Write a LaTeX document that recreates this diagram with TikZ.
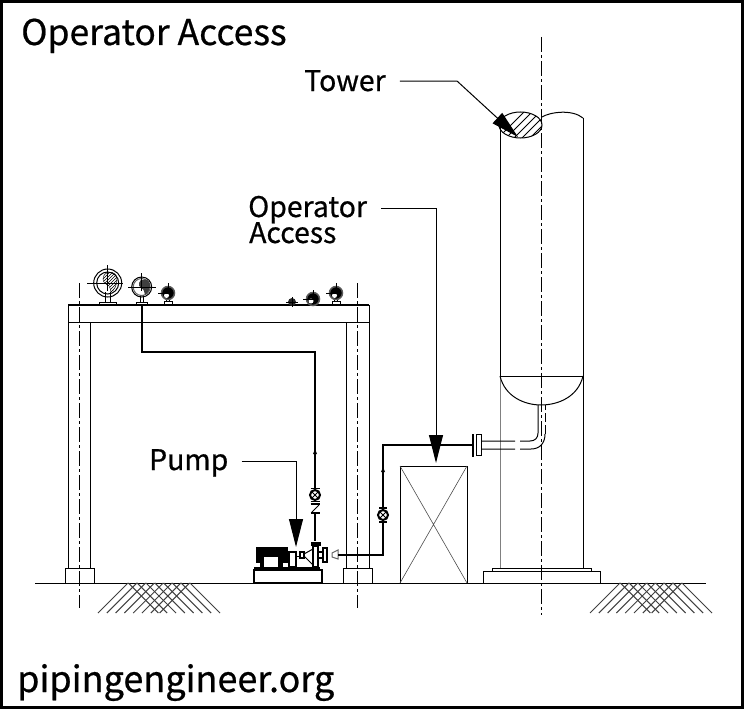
\documentclass[tikz,border=0pt]{standalone}
\usepackage{fontspec}
\setmainfont{Noto Sans CJK TC}[FakeBold=0.6]
\usetikzlibrary{positioning,calc,arrows.meta,patterns}

\tikzset{
  thinline/.style={line width=1pt},
  pipe/.style={line width=2pt},
  center line/.style={line width=1pt, dash pattern=on 15pt off 3pt on 3pt off 3pt},
  leader/.style={line width=1pt, -{Triangle[length=28pt,width=14pt]}},
  label/.style={inner sep=0pt, anchor=base west, font=\fontsize{28.4}{29}\selectfont},
  valve/.style={circle, draw, line width=2pt, minimum size=10pt, inner sep=0pt, path picture={
    \draw[line width=1pt] (path picture bounding box.south west) -- (path picture bounding box.north east)
      (path picture bounding box.north west) -- (path picture bounding box.south east);}},
}

\begin{document}
\begin{tikzpicture}[x=1pt,y=-1pt]

\useasboundingbox (0,0) rectangle (744,709);
\draw[line width=3pt] (1.5,1.5) rectangle (742.5,707.5);

% Titles

\node[label, font=\fontsize{35.5}{36}\selectfont] (TitleLabel) at (21,45) {Operator Access};
\node[label, font=\fontsize{36}{37}\selectfont] (SiteLabel) at (17,692) {pipingengineer.org};

% Ground

\draw[thinline] (35,583) -- (706,583);
\foreach \off in {0,492} {
  \foreach \i in {0,...,7} {
    \draw[thinline, black!75] ({128+\off+8.8*\i},583) -- ++(-30,30);
    \draw[thinline, black!75] ({190+\off-8.8*\i},583) -- ++(30,30);
  }
}

% Rack

\draw[thinline] (68,305) rectangle (369,322);
\draw[line width=2pt] (68,305) -- (369,305);
\draw[thinline] (68,322) -- (68,568) (90,322) -- (90,568);
\draw[thinline] (346,322) -- (346,568) (369,322) -- (369,568);
\draw[thinline] (65,568) rectangle (94,583);
\draw[thinline] (343,568) rectangle (372,583);
\draw[center line] (79,283) -- (79,608);
\draw[center line] (357,283) -- (357,608);

% Gauges

\draw[thinline] (99,305) -- (99,302) -- (116,302) -- (116,305);
\draw[thinline] (105,302) -- (105,292) (110,302) -- (110,292);
\node[circle, draw, line width=1pt, minimum size=28pt, inner sep=0pt] (GaugeBig) at (107.7,283) {};
\node[circle, draw, line width=1pt, minimum size=22pt, inner sep=0pt] (GaugeBigIn) at (107.7,283) {};
\path[draw=black, pattern=north east lines] (103,279) .. controls (103,270) and (117,270) .. (117,279)
  .. controls (117,286) and (114,290) .. (111,292) .. controls (110,286) and (108,284) .. (106,284) .. controls (104,283) and (103,281) .. (103,279);
\draw[thinline] (87,283) -- (123,283) (107.7,265) -- (107.7,291);

\draw[thinline] (136,305) -- (136,302) -- (147,302) -- (147,305);
\draw[thinline] (140,302) -- (140,295) (143.5,302) -- (143.5,295);
\node[circle, draw, line width=1pt, minimum size=20pt, inner sep=0pt] (GaugeA) at (141.7,287) {};
\node[circle, draw, black!60, line width=1pt, minimum size=17pt, inner sep=0pt] (GaugeAIn) at (141.7,287) {};
\fill[black!75] (139,283) .. controls (139,278) and (150,278) .. (150,284)
  .. controls (150,290) and (148,293) .. (145,295) .. controls (144,290) and (143,288) .. (141,288) .. controls (139,287) and (139,285) .. (139,283);
\draw[thinline] (128,287) -- (156,287) (141.7,273) -- (141.7,291);

\foreach \name/\x/\y in {GaugeB/168/293, GaugeC/336/293} {
  \draw[thinline] (\x-4,304.5) -- (\x-4,301.5) -- (\x+4,301.5) -- (\x+4,304.5);
  \draw[thinline] (\x-1.5,301.5) -- (\x-1.5,\y+6) (\x+1.5,301.5) -- (\x+1.5,\y+6);
  \node[circle, draw=black!65, fill=black, line width=1.5pt, minimum size=13pt, inner sep=0pt] (\name) at (\x,\y) {};
  \fill[white] (\x-1.5,\y+2.5) circle[radius=2.5];
  \draw[thinline] (\x-10,\y) -- (\x+2,\y) (\x,\y-10) -- (\x,\y);
}

\fill[black!85] (292,302) circle[radius=4];
\draw[thinline] (286,302.5) -- (298,302.5) (292,297) -- (292,307);

\node[circle, draw=black!65, fill=black, line width=1.5pt, minimum size=13pt, inner sep=0pt] (GaugeD) at (313,299) {};
\fill[white] (311,301) circle[radius=2.5];
\draw[thinline] (303,299) -- (315,299) (313,290) -- (313,300);

% Tower

\draw[thinline] (500,127) -- (500,376);
\draw[thinline, black!50] (500,376) -- (500,568);
\draw[thinline] (583,118) -- (583,568);
\draw[thinline] (542,117) .. controls (550,112) and (572,109) .. (583,118);
\draw[thinline] (500,376) -- (583,376);
\draw[thinline] (500,376) .. controls (505,397) and (525,405) .. (541,405) .. controls (558,405) and (578,397) .. (583,376);
\draw[thinline] (492,568) rectangle (591,571);
\draw[thinline] (483,571) rectangle (600.5,583);
\begin{scope}
  \clip (520.5,125) circle[x radius=21.5,y radius=13];
  \foreach \i in {0,...,8} {
    \draw[thinline] ({490+8*\i},146) -- ++(44,-44);
  }
\end{scope}
\draw[thinline] (520.5,125) circle[x radius=21.5,y radius=13];
\draw[center line] (541.5,37) -- (541.5,615);

% Nozzle

\draw[thinline] (481,441) -- (515,441) (520,441) -- (530,441) .. controls (535,441) and (538,438) .. (538,433) -- (538,405);
\draw[thinline] (481,449) -- (515,449) (520,449) -- (531,449) .. controls (540,449) and (545,443) .. (545,434);
\draw[thinline, dash pattern=on 9pt off 3pt] (545,434) -- (545,405);
\draw[thinline] (476.5,434.5) rectangle (481,455);

% Box

\draw[thinline] (400,466) rectangle (467,583);
\draw[line width=0.6pt, black!70] (400,466) -- (467,583) (467,466) -- (400,583);

% Pump

\draw[line width=1.6pt] (254,570) rectangle (322,583);
\fill (254,567) rectangle (320,570.5);
\fill (256,547) rectangle (288,563);
\fill (260,563) rectangle (283,568);
\fill[white] (264,557) rectangle (278,567);
\node[draw, line width=1.2pt, minimum width=7pt, minimum height=15pt, inner sep=0pt] (PumpCoupling) at (292.5,559.5) {};
\node[draw, line width=1.2pt, minimum width=4pt, minimum height=6pt, inner sep=0pt] (PumpShaft) at (302,555) {};
\draw[thinline] (296,556) -- (300,556);
\draw[thinline] (304,554) -- (313,549) (304,556) -- (313,565);
\node[draw, line width=1.4pt, minimum width=5pt, minimum height=21pt, inner sep=0pt] (PumpBody) at (315.5,556.5) {};
\fill (311,541.5) rectangle (321,545.5);
\draw[line width=1.4pt] (318,552) -- (323,552) (318,558) -- (323,558);
\node[draw, line width=1.6pt, minimum width=4pt, minimum height=14pt, inner sep=0pt] (PumpFlange) at (325,555) {};
\draw[thinline, black!60] (332,553) -- (338,550) -- (338,559) -- (332,557) -- cycle;

% Suction line

\coordinate (SuctionStart) at (142,305);
\coordinate (SuctionBend1) at (142,352);
\coordinate (SuctionBend2) at (315,352);
\node[valve] (SuctionValve) at (315,495) {};
\draw[line width=1.4pt] (310.5,488.5) -- (319.5,488.5) (310.5,501.5) -- (319.5,501.5) (310.5,504) -- (319.5,504);
\draw[line width=1.4pt] (310.5,513) -- (319.5,513);
\draw[thinline] (319,505) -- (312,512);
\draw[pipe] (SuctionStart) -- (SuctionBend1) -- (SuctionBend2) -- (SuctionValve);
\draw[pipe] (315,513) -- (315,541);
\fill (315,449) -- (313,454) -- (317,454) -- cycle;

% Discharge line

\coordinate (DischargeStart) at (338,555);
\coordinate (DischargeBend1) at (383,555);
\coordinate (DischargeBend2) at (383,445);
\coordinate (FlangeEnd) at (473,445);
\node[valve] (DischargeValve) at (383,515) {};
\draw[line width=1.4pt] (379,508) -- (387,508) (379,522) -- (387,522);
\draw[pipe] (DischargeStart) -- (DischargeBend1) -- (DischargeValve);
\draw[pipe] (DischargeValve) -- (DischargeBend2) -- (FlangeEnd);
\draw[line width=2.5pt] (473,434) -- (473,457);
\fill (383,467) -- (381,472) -- (385,472) -- cycle;

% Labels

\node[label] (TowerLabel) at (304,91) {Tower};
\node[label] (OperatorLabel) at (248,217) {Operator};
\node[label] (AccessLabel) at (249,243) {Access};
\node[label] (PumpLabel) at (149,470) {Pump};

\coordinate (TowerBend) at (457,81);
\coordinate (TowerTip) at (518,137);
\coordinate (OperatorBend) at (436,208);
\coordinate (OperatorTip) at (436,463);
\coordinate (PumpBend) at (296,461);
\coordinate (PumpTip) at (296,547);

\draw[leader, shorten <=14pt] (TowerLabel.east |- TowerBend) -- (TowerBend) -- (TowerTip);
\draw[leader, shorten <=14pt] (OperatorLabel.east |- OperatorBend) -- (OperatorBend) -- (OperatorTip);
\draw[leader, shorten <=13pt] (PumpLabel.east |- PumpBend) -- (PumpBend) -- (PumpTip);

\end{tikzpicture}
\end{document}
